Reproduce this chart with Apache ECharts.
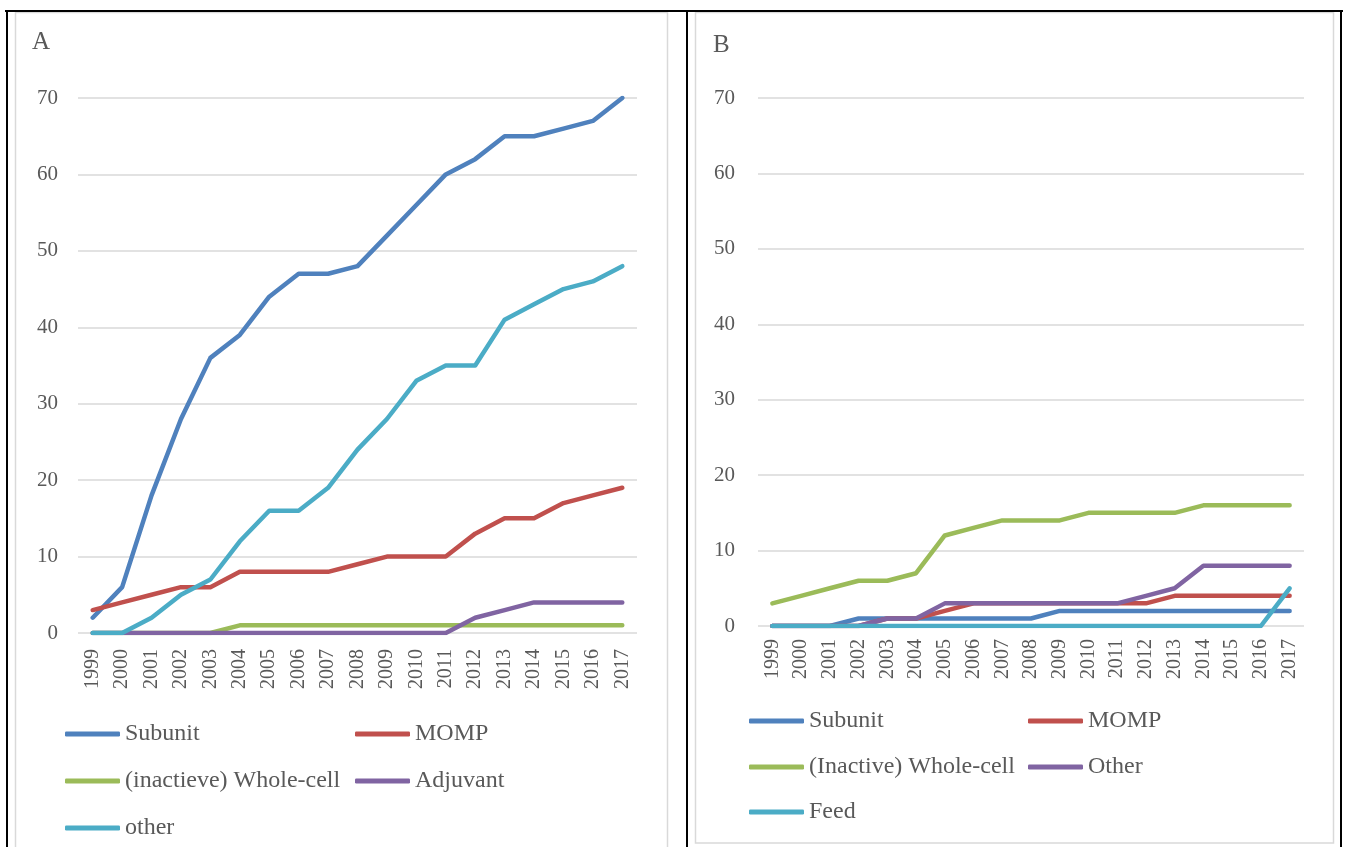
<!DOCTYPE html>
<html>
<head>
<meta charset="utf-8">
<script src="https://cdn.jsdelivr.net/npm/echarts@6/dist/echarts.min.js"></script>
<style>
  html, body { margin: 0; padding: 0; background: #fff; }
  #chart { width: 1346px; height: 847px; }
</style>
</head>
<body>
<div id="chart"></div>
<script>
// Years on the horizontal axis (shared by both panels)
const years = ['1999','2000','2001','2002','2003','2004','2005','2006','2007','2008',
               '2009','2010','2011','2012','2013','2014','2015','2016','2017'];

// Panel A – cumulative counts
const aSubunit   = [2, 6, 18, 28, 36, 39, 44, 47, 47, 48, 52, 56, 60, 62, 65, 65, 66, 67, 70];
const aMomp      = [3, 4, 5, 6, 6, 8, 8, 8, 8, 9, 10, 10, 10, 13, 15, 15, 17, 18, 19];
const aWhole     = [0, 0, 0, 0, 0, 1, 1, 1, 1, 1, 1, 1, 1, 1, 1, 1, 1, 1, 1];
const aAdjuvant  = [0, 0, 0, 0, 0, 0, 0, 0, 0, 0, 0, 0, 0, 2, 3, 4, 4, 4, 4];
const aOther     = [0, 0, 2, 5, 7, 12, 16, 16, 19, 24, 28, 33, 35, 35, 41, 43, 45, 46, 48];

// Panel B – cumulative counts
const bSubunit   = [0, 0, 0, 1, 1, 1, 1, 1, 1, 1, 2, 2, 2, 2, 2, 2, 2, 2, 2];
const bMomp      = [0, 0, 0, 0, 1, 1, 2, 3, 3, 3, 3, 3, 3, 3, 4, 4, 4, 4, 4];
const bWhole     = [3, 4, 5, 6, 6, 7, 12, 13, 14, 14, 14, 15, 15, 15, 15, 16, 16, 16, 16];
const bOther     = [0, 0, 0, 0, 1, 1, 3, 3, 3, 3, 3, 3, 3, 4, 5, 8, 8, 8, 8];
const bFeed      = [0, 0, 0, 0, 0, 0, 0, 0, 0, 0, 0, 0, 0, 0, 0, 0, 0, 0, 5];

// Tick values of the value axes
const yTicks = [0, 10, 20, 30, 40, 50, 60, 70];

const namesA = ['Subunit', 'MOMP', '(inactieve) Whole-cell', 'Adjuvant', 'other'];
const namesB = ['Subunit ', 'MOMP ', '(Inactive) Whole-cell', 'Other', 'Feed'];

const BLUE = '#4F81BD', RED = '#C0504D', GREEN = '#9BBB59', PURPLE = '#8064A2', CYAN = '#4BACC6';
const TEXT = '#595959';
const GRID = '#D9D9D9';
const FONT = '"Liberation Serif", "Times New Roman", serif';

const chart = echarts.init(document.getElementById('chart'), null, { renderer: 'canvas' });

function lineSeries(name, data, color, idx) {
  return {
    name: name,
    type: 'line',
    data: data,
    xAxisIndex: idx,
    yAxisIndex: idx,
    showSymbol: false,
    symbol: 'none',
    animation: false,
    lineStyle: { color: color, width: 4.5, cap: 'round', join: 'round' },
    itemStyle: { color: color },
    emphasis: { disabled: true }
  };
}

function legendAt(name, left, top) {
  return {
    data: [name],
    left: left,
    top: top,
    orient: 'horizontal',
    icon: 'roundRect',
    itemWidth: 55,
    itemHeight: 5,
    itemGap: 0,
    padding: 0,
    selectedMode: false,
    textStyle: { fontFamily: FONT, fontSize: 24, color: TEXT, padding: [0, 0, 0, 0] }
  };
}

function xAxisDef(idx, margin) {
  return {
    type: 'category',
    gridIndex: idx,
    data: years,
    boundaryGap: true,
    axisLine: { show: false },
    axisTick: { show: false },
    axisLabel: {
      rotate: 90,
      interval: 0,
      margin: margin,
      fontFamily: FONT,
      fontSize: 20,
      color: TEXT
    },
    splitLine: { show: false }
  };
}

function yAxisDef(idx, margin) {
  return {
    type: 'value',
    gridIndex: idx,
    min: yTicks[0],
    max: yTicks[yTicks.length - 1],
    interval: yTicks[1] - yTicks[0],
    axisLine: { show: false },
    axisTick: { show: false },
    axisLabel: { margin: margin, fontFamily: FONT, fontSize: 21, color: TEXT },
    splitLine: { show: true, lineStyle: { color: GRID, width: 1.5 } }
  };
}

const option = {
  backgroundColor: '#ffffff',
  animation: false,
  title: [
    { text: 'A', left: 32, top: 30, padding: 0, textStyle: { fontFamily: FONT, fontSize: 25, fontWeight: 'normal', color: TEXT } },
    { text: 'B', left: 713, top: 33, padding: 0, textStyle: { fontFamily: FONT, fontSize: 25, fontWeight: 'normal', color: TEXT } }
  ],
  grid: [
    { left: 78, right: 1346 - 637, top: 98, bottom: 847 - 633 },
    { left: 758, right: 1346 - 1304, top: 98, bottom: 847 - 626 }
  ],
  xAxis: [xAxisDef(0, 16), xAxisDef(1, 13)],
  yAxis: [yAxisDef(0, 20), yAxisDef(1, 23)],
  legend: [
    legendAt(namesA[0], 65, 722),
    legendAt(namesA[1], 355, 722),
    legendAt(namesA[2], 65, 769),
    legendAt(namesA[3], 355, 769),
    legendAt(namesA[4], 65, 816),
    legendAt(namesB[0], 749, 709),
    legendAt(namesB[1], 1028, 709),
    legendAt(namesB[2], 749, 755),
    legendAt(namesB[3], 1028, 755),
    legendAt(namesB[4], 749, 800)
  ],
  series: [
    lineSeries(namesA[0], aSubunit, BLUE, 0),
    lineSeries(namesA[1], aMomp, RED, 0),
    lineSeries(namesA[2], aWhole, GREEN, 0),
    lineSeries(namesA[3], aAdjuvant, PURPLE, 0),
    lineSeries(namesA[4], aOther, CYAN, 0),
    lineSeries(namesB[0], bSubunit, BLUE, 1),
    lineSeries(namesB[1], bMomp, RED, 1),
    lineSeries(namesB[2], bWhole, GREEN, 1),
    lineSeries(namesB[3], bOther, PURPLE, 1),
    lineSeries(namesB[4], bFeed, CYAN, 1)
  ],
  graphic: [
    // light chart-area frames
    { type: 'rect', silent: true, z: -1, shape: { x: 15.5, y: 12.5, width: 652, height: 860 },
      style: { fill: null, stroke: GRID, lineWidth: 1.5 } },
    { type: 'rect', silent: true, z: -1, shape: { x: 695.5, y: 12.5, width: 638, height: 830.5 },
      style: { fill: null, stroke: GRID, lineWidth: 1.5 } },
    // black table rules
    { type: 'line', silent: true, shape: { x1: 5, y1: 11, x2: 1343, y2: 11 }, style: { stroke: '#000', lineWidth: 2 } },
    { type: 'line', silent: true, shape: { x1: 7, y1: 10, x2: 7, y2: 847 }, style: { stroke: '#000', lineWidth: 2 } },
    { type: 'line', silent: true, shape: { x1: 687, y1: 10, x2: 687, y2: 847 }, style: { stroke: '#000', lineWidth: 2 } },
    { type: 'line', silent: true, shape: { x1: 1341, y1: 10, x2: 1341, y2: 847 }, style: { stroke: '#000', lineWidth: 2 } }
  ]
};

chart.setOption(option);
</script>
</body>
</html>
